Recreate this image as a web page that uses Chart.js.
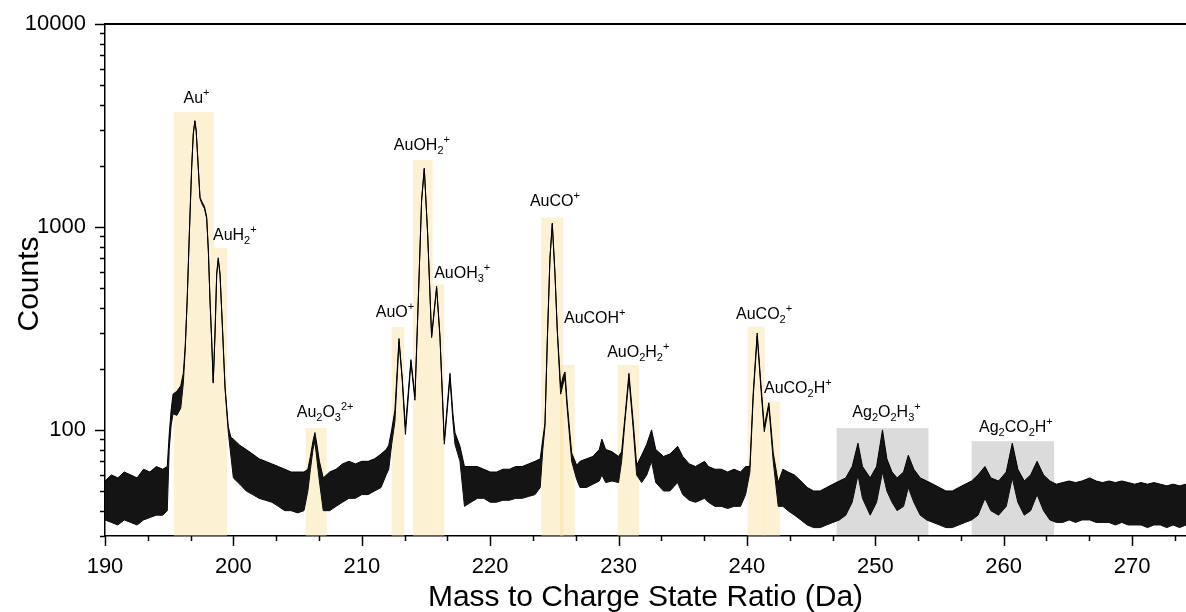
<!DOCTYPE html>
<html>
<head>
<meta charset="utf-8">
<script src="https://cdn.jsdelivr.net/npm/chart.js@4.4.0/dist/chart.umd.min.js"></script>
<style>
  html, body { margin: 0; padding: 0; background: #fff; }
  #wrap { width: 1186px; height: 612px; }
</style>
</head>
<body>
<div id="wrap"><canvas id="spectrumChart" width="1186" height="612"></canvas></div>
<script>
// Mass spectrum: upper and lower edge of the trace at each mass
const mass = [
  190.0, 190.5, 191.0, 191.5, 192.0, 192.5, 193.0, 193.5, 194.0, 194.5,
  194.85, 195.0, 195.15, 195.3, 195.6, 195.9, 196.1, 196.25, 196.4, 196.57,
  196.75, 196.88, 197.0, 197.1, 197.19, 197.3, 197.4, 197.55, 197.75, 197.92,
  198.05, 198.18, 198.31, 198.43, 198.57, 198.7, 198.82, 198.96, 199.17, 199.35,
  199.6, 199.8, 200.0, 200.5, 201.0, 201.5, 202.0, 202.5, 203.0, 203.5,
  204.0, 204.5, 205.0, 205.5, 205.8, 206.0, 206.2, 206.35, 206.5, 206.7,
  207.0, 207.5, 208.0, 208.5, 209.0, 209.5, 210.0, 210.5, 211.0, 211.5,
  211.9, 212.1, 212.33, 212.58, 212.9, 213.15, 213.4, 213.83, 214.14, 214.4,
  214.66, 214.87, 215.13, 215.44, 215.83, 216.09, 216.43, 216.87, 217.1, 217.26,
  217.65, 218.0, 218.5, 219.0, 219.5, 220.0, 220.5, 221.0, 221.5, 222.0,
  222.5, 223.0, 223.5, 223.9, 224.1, 224.27, 224.45, 224.66, 224.84, 225.05,
  225.23, 225.49, 225.7, 225.83, 226.0, 226.35, 226.74, 227.0, 227.5, 228.0,
  228.5, 228.7, 229.0, 229.5, 230.0, 230.24, 230.5, 230.81, 231.15, 231.41,
  231.8, 232.2, 232.57, 232.9, 233.5, 234.0, 234.6, 235.0, 235.5, 236.0,
  236.7, 237.0, 237.5, 238.0, 238.5, 239.0, 239.5, 239.9, 240.23, 240.49,
  240.8, 241.09, 241.35, 241.71, 242.05, 242.44, 242.8, 243.2, 243.7, 244.2,
  244.7, 245.2, 245.7, 246.2, 246.7, 247.2, 247.7, 248.2, 248.65, 249.0,
  249.6, 250.1, 250.56, 250.9, 251.3, 251.7, 252.2, 252.57, 253.0, 253.5,
  254.0, 254.5, 255.0, 255.5, 256.0, 256.5, 257.0, 257.5, 258.0, 258.54,
  259.0, 259.6, 260.2, 260.67, 261.1, 261.6, 262.1, 262.6, 263.1, 263.6,
  264.1, 264.6, 265.1, 265.6, 266.1, 266.7, 267.2, 267.7, 268.2, 268.7,
  269.2, 269.7, 270.2, 270.7, 271.2, 271.7, 272.2, 272.7, 273.2, 273.7,
  274.2
];
const countHi = [
  56, 60, 58, 62, 60, 58, 64, 62, 66, 64,
  66, 95, 125, 150, 155, 165, 190, 260, 436, 935,
  1970, 2900, 3340, 3000, 2400, 1800, 1400, 1330, 1260, 1120,
  770, 436, 277, 173, 300, 590, 705, 590, 300, 163,
  104, 92, 90, 84, 80, 76, 72, 70, 68, 66,
  64, 62, 62, 62, 64, 74, 88, 97, 85, 70,
  58, 62, 64, 68, 70, 68, 70, 70, 72, 76,
  80, 84, 100, 125, 282, 182, 103, 222, 146, 436,
  1360, 1950, 935, 290, 510, 290, 89, 190, 120, 97,
  83, 66, 66, 66, 64, 62, 62, 64, 64, 66,
  66, 68, 70, 72, 90, 108, 277, 710, 1045, 590,
  311, 163, 185, 193, 136, 77, 67, 70, 72, 74,
  80, 90, 80, 78, 74, 78, 116, 190, 108, 67,
  75, 85, 100, 80, 74, 76, 83, 74, 68, 66,
  70, 66, 64, 64, 62, 64, 62, 66, 66, 152,
  300, 168, 104, 136, 77, 55, 64, 62, 60, 56,
  52, 50, 50, 52, 54, 56, 58, 66, 86, 66,
  58, 66, 100, 72, 62, 58, 62, 75, 64, 58,
  56, 54, 52, 50, 50, 52, 54, 56, 60, 66,
  58, 56, 62, 86, 64, 56, 60, 70, 60, 56,
  54, 55, 56, 55, 56, 58, 56, 55, 56, 55,
  56, 55, 54, 55, 54, 55, 54, 53, 54, 53,
  54
];
const countLo = [
  36, 35, 34, 36, 35, 34, 36, 37, 38, 38,
  40, 80, 105, 120, 118, 128, 170, 250, 430, 920,
  1950, 2880, 3320, 2980, 2380, 1780, 1380, 1300, 1230, 1100,
  760, 430, 272, 170, 295, 580, 690, 580, 295, 160,
  98, 75, 58, 54, 50, 48, 46, 45, 44, 42,
  40, 40, 39, 40, 50, 64, 80, 88, 72, 56,
  40, 40, 42, 44, 46, 46, 48, 48, 50, 52,
  60, 64, 85, 110, 272, 176, 95, 215, 140, 430,
  1340, 1930, 920, 285, 500, 285, 85, 180, 110, 85,
  70, 42, 44, 46, 46, 44, 44, 45, 45, 46,
  46, 47, 48, 52, 80, 104, 270, 700, 1030, 580,
  305, 150, 170, 180, 128, 70, 57, 52, 52, 54,
  56, 60, 55, 56, 55, 70, 110, 180, 100, 60,
  55, 60, 70, 55, 50, 50, 55, 48, 45, 44,
  46, 44, 42, 42, 41, 42, 42, 48, 62, 145,
  290, 160, 98, 130, 70, 42, 42, 40, 38, 36,
  34, 33, 33, 34, 35, 36, 38, 44, 60, 46,
  38, 44, 62, 50, 44, 40, 42, 52, 44, 38,
  36, 35, 34, 33, 33, 34, 35, 36, 38, 46,
  40, 38, 42, 58, 44, 38, 40, 48, 40, 36,
  35, 35, 36, 35, 36, 36, 35, 35, 35, 34,
  35, 34, 34, 34, 33, 34, 34, 33, 34, 33,
  34
];

const xTicks = [190, 200, 210, 220, 230, 240, 250, 260, 270];
const yTicks = [100, 1000, 10000];

// Highlighted ion ranges (mass range and height of the shaded box)
const ionNames = ['Au^+', 'AuH_2^+', 'Au_2O_3^{2+}', 'AuO^+', 'AuOH_2^+', 'AuOH_3^+', 'AuCO^+',
  'AuCOH^+', 'AuO_2H_2^+', 'AuCO_2^+', 'AuCO_2H^+', 'Ag_2O_2H_3^+', 'Ag_2CO_2H^+'];
const boxStart = [195.37, 198.49, 205.63, 212.33, 214.0, 215.52, 224.0, 225.44, 229.93, 240.05, 241.33, 246.98, 257.5];
const boxEnd = [198.49, 199.5, 207.26, 213.31, 215.52, 216.43, 225.7, 226.58, 231.59, 241.38, 242.57, 254.14, 263.93];
const boxTop = [3680, 789, 102, 321, 2140, 521, 1111, 209, 209, 323, 138, 102, 88];
const boxGroup = ['Au', 'Au', 'Au', 'Au', 'Au', 'Au', 'Au', 'Au', 'Au', 'Au', 'Au', 'Ag', 'Ag'];

const goldFill = 'rgba(250, 222, 150, 0.42)';
const greyFill = 'rgba(0, 0, 0, 0.14)';
const fontFamily = '"Liberation Sans", Arial, sans-serif';

// where each label sits relative to its box (pixels)
const labelPlace = [
  { align: 'center', dx: 2.5, dy: -9 },
  { align: 'left', dx: -1, dy: -8 },
  { align: 'center', dx: 9, dy: -11 },
  { align: 'center', dx: -3, dy: -10 },
  { align: 'center', dx: -1, dy: -10 },
  { align: 'left', dx: 1.5, dy: -6 },
  { align: 'center', dx: 2.5, dy: -12 },
  { align: 'left', dx: 4, dy: -42 },
  { align: 'center', dx: 10, dy: -8 },
  { align: 'center', dx: 8, dy: -8 },
  { align: 'left', dx: 0, dy: -8 },
  { align: 'center', dx: 4, dy: -11 },
  { align: 'center', dx: 3, dy: -9 }
];

function parseIon(str) {
  const parts = [];
  let i = 0;
  while (i < str.length) {
    const c = str[i];
    if (c === '_' || c === '^') {
      let txt;
      if (str[i + 1] === '{') {
        const j = str.indexOf('}', i);
        txt = str.slice(i + 2, j);
        i = j + 1;
      } else {
        txt = str[i + 1];
        i += 2;
      }
      parts.push({ text: txt, kind: c === '_' ? 'sub' : 'sup' });
    } else {
      let j = i;
      while (j < str.length && str[j] !== '_' && str[j] !== '^') j++;
      parts.push({ text: str.slice(i, j), kind: 'base' });
      i = j;
    }
  }
  return parts;
}

function drawIon(ctx, str, x, y, align) {
  const parts = parseIon(str);
  const fonts = { base: '16px ' + fontFamily, sub: '11px ' + fontFamily, sup: '11px ' + fontFamily };
  const shift = { base: 0, sub: 4, sup: -7 };
  let width = 0;
  parts.forEach(p => {
    ctx.font = fonts[p.kind];
    p.w = ctx.measureText(p.text).width;
    width += p.w;
  });
  let cx = align === 'center' ? x - width / 2 : x;
  ctx.textAlign = 'left';
  ctx.textBaseline = 'alphabetic';
  parts.forEach(p => {
    ctx.font = fonts[p.kind];
    ctx.fillText(p.text, cx, y + shift[p.kind]);
    cx += p.w;
  });
}

const spectrumDecor = {
  id: 'spectrumDecor',
  beforeDatasetsDraw(chart) {
    const { ctx, chartArea, scales: { x, y } } = chart;
    ctx.save();
    ctx.beginPath();
    ctx.rect(chartArea.left, chartArea.top, chartArea.width, chartArea.height);
    ctx.clip();
    boxStart.forEach((s, i) => {
      const x0 = x.getPixelForValue(s);
      const x1 = x.getPixelForValue(boxEnd[i]);
      const yTop = y.getPixelForValue(boxTop[i]);
      ctx.fillStyle = boxGroup[i] === 'Ag' ? greyFill : goldFill;
      ctx.fillRect(x0, yTop, x1 - x0, chartArea.bottom - yTop);
    });
    ctx.restore();
  },
  afterDraw(chart) {
    const { ctx, chartArea, scales: { x, y } } = chart;
    ctx.save();
    ctx.strokeStyle = '#000';
    ctx.fillStyle = '#000';

    // top frame line
    ctx.lineWidth = 2;
    ctx.beginPath();
    ctx.moveTo(chartArea.left, chartArea.top);
    ctx.lineTo(chartArea.right, chartArea.top);
    ctx.stroke();

    // tick marks
    ctx.lineWidth = 1.5;
    ctx.beginPath();
    yTicks.forEach(v => {
      const py = Math.round(y.getPixelForValue(v)) + 0.5;
      ctx.moveTo(chartArea.left - 10, py);
      ctx.lineTo(chartArea.left, py);
    });
    [10, 100, 1000].forEach(d => {
      for (let k = 2; k <= 9; k++) {
        const v = k * d;
        if (v < y.min || v > y.max) continue;
        const py = Math.round(y.getPixelForValue(v)) + 0.5;
        ctx.moveTo(chartArea.left - 5, py);
        ctx.lineTo(chartArea.left, py);
      }
    });
    for (let j = 0; ; j++) {
      const v = xTicks[0] + j * 10 / 3;
      if (v > x.max) break;
      const px = Math.round(x.getPixelForValue(v)) + 0.5;
      ctx.moveTo(px, chartArea.bottom);
      ctx.lineTo(px, chartArea.bottom + (j % 3 === 0 ? 10 : 5));
    }
    ctx.stroke();

    // axis titles
    ctx.font = '30px ' + fontFamily;
    ctx.textAlign = 'center';
    ctx.textBaseline = 'alphabetic';
    ctx.fillText('Mass to Charge State Ratio (Da)', (chartArea.left + chartArea.right) / 2, 606);
    ctx.save();
    ctx.translate(38, (chartArea.top + chartArea.bottom) / 2 + 4);
    ctx.rotate(-Math.PI / 2);
    ctx.fillText('Counts', 0, 0);
    ctx.restore();

    // ion labels
    ionNames.forEach((name, i) => {
      const pl = labelPlace[i];
      const x0 = x.getPixelForValue(boxStart[i]);
      const x1 = x.getPixelForValue(boxEnd[i]);
      const yTop = y.getPixelForValue(boxTop[i]);
      const ax = pl.align === 'center' ? (x0 + x1) / 2 + pl.dx : x0 + pl.dx;
      drawIon(ctx, name, ax, yTop + pl.dy, pl.align);
    });
    ctx.restore();
  }
};

const ctx = document.getElementById('spectrumChart').getContext('2d');
new Chart(ctx, {
  type: 'line',
  data: {
    datasets: [
      {
        label: 'upper',
        data: mass.map((m, i) => ({ x: m, y: countHi[i] })),
        borderColor: '#000',
        backgroundColor: '#141414',
        borderWidth: 1,
        pointRadius: 0,
        tension: 0,
        fill: '+1'
      },
      {
        label: 'lower',
        data: mass.map((m, i) => ({ x: m, y: countLo[i] })),
        borderColor: '#000',
        borderWidth: 1,
        pointRadius: 0,
        tension: 0,
        fill: false
      }
    ]
  },
  options: {
    responsive: false,
    animation: false,
    layout: { padding: { top: 24, right: 0, left: 0, bottom: 0 } },
    plugins: {
      legend: { display: false },
      tooltip: { enabled: false }
    },
    scales: {
      x: {
        type: 'linear',
        min: 190,
        max: 274.2,
        afterBuildTicks: scale => { scale.ticks = xTicks.map(v => ({ value: v })); },
        afterFit: scale => {
          scale.height = 76;
          scale.paddingLeft = 0;
          scale.paddingRight = 0;
        },
        grid: { display: false, drawTicks: false },
        border: { display: true, color: '#000', width: 1.5 },
        ticks: {
          color: '#000',
          padding: 18,
          maxRotation: 0,
          font: { family: fontFamily, size: 22 },
          callback: v => String(v)
        }
      },
      y: {
        type: 'logarithmic',
        min: 30,
        max: 10000,
        afterBuildTicks: scale => { scale.ticks = yTicks.map(v => ({ value: v })); },
        afterFit: scale => {
          scale.width = 105;
          scale.paddingTop = 0;
          scale.paddingBottom = 0;
        },
        grid: { display: false, drawTicks: false },
        border: { display: true, color: '#000', width: 1.5 },
        ticks: {
          color: '#000',
          padding: 19,
          font: { family: fontFamily, size: 22 },
          callback: v => String(v)
        }
      }
    }
  },
  plugins: [spectrumDecor]
});
</script>
</body>
</html>
